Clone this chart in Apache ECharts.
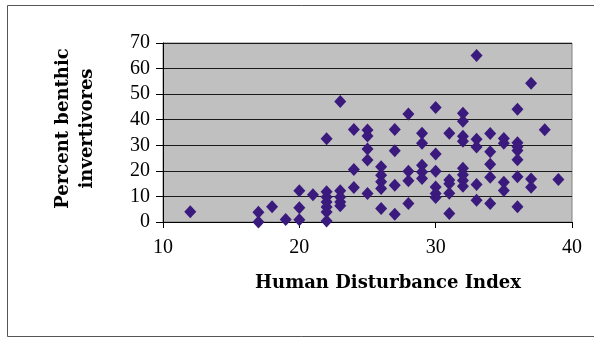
<!DOCTYPE html>
<html>
<head>
<meta charset="utf-8">
<script src="https://cdn.jsdelivr.net/npm/echarts@6/dist/echarts.min.js"></script>
<style>
html,body{margin:0;padding:0;background:#fff;}
#chart{width:594px;height:338px;}
</style>
</head>
<body>
<div id="chart"></div>
<script>
// Human Disturbance Index (x) and Percent benthic invertivores (y)
const disturbance = [
  12,
  17, 17,
  18,
  19,
  20, 20, 20,
  21,
  22, 22, 22, 22, 22, 22, 22,
  23, 23, 23, 23, 23,
  24, 24, 24,
  25, 25, 25, 25, 25,
  26, 26, 26, 26, 26,
  27, 27, 27, 27,
  28, 28, 28, 28,
  29, 29, 29, 29, 29,
  30, 30, 30, 30, 30, 30,
  31, 31, 31, 31, 31,
  32, 32, 32, 32, 32, 32, 32, 32,
  33, 33, 33, 33, 33,
  34, 34, 34, 34, 34,
  35, 35, 35, 35,
  36, 36, 36, 36, 36, 36, 36,
  37, 37, 37,
  38,
  39
];
const invertivores = [
  4.0,
  3.8, 0.0,
  6.0,
  1.0,
  12.2, 5.6, 0.9,
  10.7,
  32.6, 11.8, 9.8, 7.8, 5.9, 3.9, 0.4,
  47.1, 12.2, 9.8, 7.8, 6.4,
  36.2, 20.5, 13.5,
  36.0, 33.6, 28.5, 24.2, 11.1,
  21.6, 18.3, 15.7, 13.1, 5.3,
  36.2, 27.9, 14.4, 3.0,
  42.2, 19.8, 16.1, 7.2,
  34.7, 30.8, 22.2, 19.6, 17.0,
  44.8, 26.6, 19.8, 13.7, 11.1, 9.6,
  34.7, 16.4, 15.0, 11.2, 3.3,
  42.5, 39.4, 33.5, 31.6, 21.0, 18.5, 16.2, 14.0,
  65.1, 32.4, 29.3, 14.7, 8.5,
  34.6, 27.5, 22.6, 17.5, 7.2,
  32.7, 30.8, 15.5, 12.3,
  44.1, 31.0, 29.4, 28.0, 24.3, 17.7, 6.0,
  54.3, 16.8, 13.6,
  36.1,
  16.6
];
const xTicks = [10, 20, 30, 40];
const yTicks = [0, 10, 20, 30, 40, 50, 60, 70];
const xTitle = 'Human Disturbance Index';
const yTitle = 'Percent benthic\ninvertivores';

const points = disturbance.map((x, i) => [x, invertivores[i]]);

const chart = echarts.init(document.getElementById('chart'), null, {renderer: 'canvas'});
chart.setOption({
  animation: false,
  backgroundColor: '#ffffff',
  graphic: [{
    type: 'rect',
    silent: true,
    shape: {x: 7.5, y: 5.5, width: 620, height: 331},
    style: {fill: 'none', stroke: '#555555', lineWidth: 1}
  }],
  grid: {
    left: 163, right: 22, top: 43, bottom: 116,
    show: true,
    backgroundColor: '#C0C0C0',
    borderColor: '#808080',
    borderWidth: 1
  },
  xAxis: {
    type: 'value',
    min: xTicks[0], max: xTicks[xTicks.length - 1], interval: 10,
    name: xTitle,
    nameLocation: 'middle',
    nameGap: 52,
    nameTextStyle: {
      fontFamily: 'DejaVu Serif', fontWeight: 'bold', fontSize: 18, color: '#000',
      padding: [0, 0, 0, 41]
    },
    axisLine: {show: true, onZero: false, lineStyle: {color: '#000', width: 1}},
    axisTick: {show: true, length: 6, lineStyle: {color: '#000'}},
    axisLabel: {
      margin: 16, fontFamily: 'Liberation Serif', fontSize: 20, color: '#000'
    },
    splitLine: {show: false}
  },
  yAxis: {
    type: 'value',
    min: yTicks[0], max: yTicks[yTicks.length - 1], interval: 10,
    name: yTitle,
    nameLocation: 'middle',
    nameRotate: 90,
    nameGap: 64,
    nameTextStyle: {
      fontFamily: 'DejaVu Serif', fontWeight: 'bold', fontSize: 18, color: '#000',
      lineHeight: 24, align: 'center',
      padding: [0, 0, 0, 8]
    },
    axisLine: {show: true, lineStyle: {color: '#000', width: 1}},
    axisTick: {show: true, length: 7, lineStyle: {color: '#000'}},
    axisLabel: {
      margin: 13, fontFamily: 'Liberation Serif', fontSize: 20, color: '#000'
    },
    splitLine: {show: true, lineStyle: {color: '#1a1a1a', width: 1}}
  },
  series: [{
    type: 'scatter',
    data: points,
    symbol: 'diamond',
    symbolSize: [12, 13],
    itemStyle: {color: '#3B1A7E', opacity: 1}
  }]
});
</script>
</body>
</html>
